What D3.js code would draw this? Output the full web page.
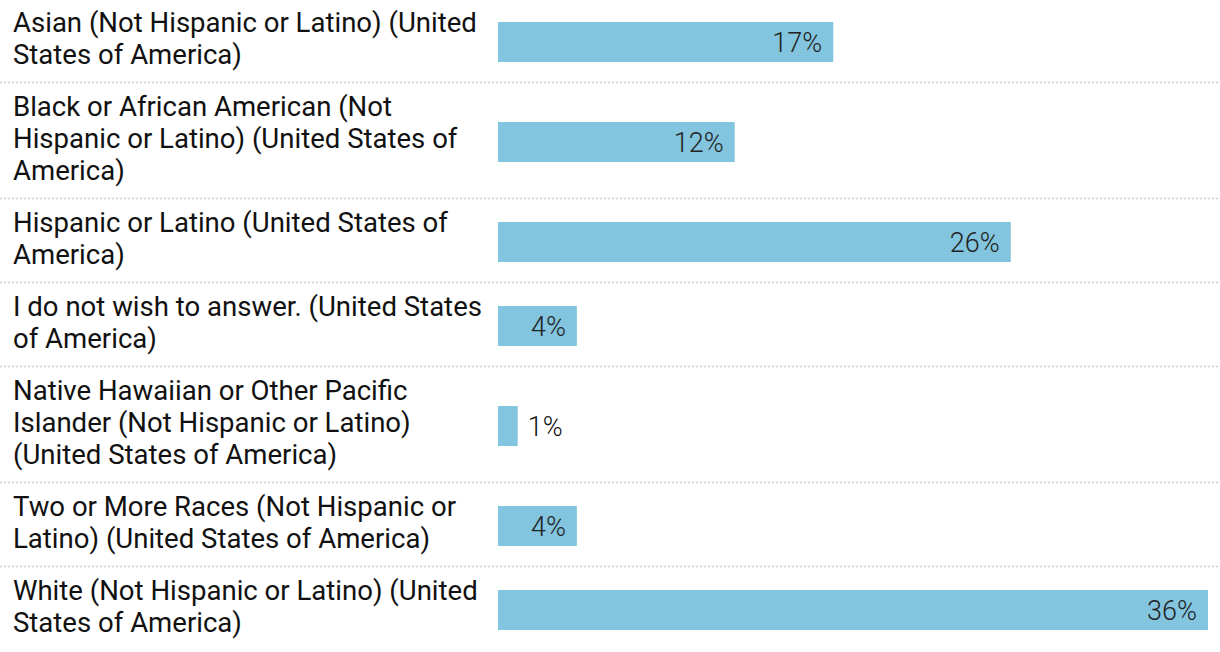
<!DOCTYPE html>
<html><head><meta charset="utf-8">
<script src="https://cdn.jsdelivr.net/npm/d3@7"></script>
<style>html,body{margin:0;padding:0;background:#fff;}svg{display:block;}</style>
</head><body>
<svg id="chart" width="1220" height="652"></svg>
<script>
const categories = [
  "Asian (Not Hispanic or Latino) (United States of America)",
  "Black or African American (Not Hispanic or Latino) (United States of America)",
  "Hispanic or Latino (United States of America)",
  "I do not wish to answer. (United States of America)",
  "Native Hawaiian or Other Pacific Islander (Not Hispanic or Latino) (United States of America)",
  "Two or More Races (Not Hispanic or Latino) (United States of America)",
  "White (Not Hispanic or Latino) (United States of America)"
];
const values = [17, 12, 26, 4, 1, 4, 36];

const W = 1220, H = 652;
const labelX = 13, wrapWidth = 475, lineH = 32, rowPad = 20;
const barX0 = 498, barX1 = 1208, barH = 40;
const fontFam = "Roboto, 'Open Sans', sans-serif";

const svg = d3.select("#chart");

const meas = svg.append("text").attr("font-family", fontFam).attr("font-size", 24).attr("visibility","hidden");
meas.text("Asian (Not Hispanic or Latino) (United");
const fs = 24 * 464 / meas.node().getComputedTextLength();
meas.attr("font-size", fs);
function wrap(str){
  const words = str.split(" "); const lines=[]; let cur="";
  for(const w of words){
    const t = cur ? cur+" "+w : w;
    meas.text(t);
    if(meas.node().getComputedTextLength() > wrapWidth && cur){ lines.push(cur); cur=w; }
    else cur=t;
  }
  if(cur) lines.push(cur);
  return lines;
}
const rows = categories.map((c,i)=>({cat:c, val:values[i], lines:wrap(c)}));
meas.remove();
let yAcc = 0;
rows.forEach(r=>{ r.h = r.lines.length*lineH + rowPad; r.y0 = yAcc; yAcc += r.h; });
const scaleH = H / yAcc;
rows.forEach(r=>{ r.y0*=scaleH; r.h*=scaleH; });

const x = d3.scaleLinear().domain([0, d3.max(values)]).range([barX0, barX1]);

const g = svg.append("g");
g.selectAll("line.sep").data(rows.slice(1)).join("line")
  .attr("class","sep").attr("x1",0).attr("x2",W)
  .attr("y1",d=>Math.round(d.y0)-1.5).attr("y2",d=>Math.round(d.y0)-1.5)
  .attr("stroke","#cfcfcf").attr("stroke-width",1.5).attr("stroke-dasharray","2,2");

const row = g.selectAll("g.row").data(rows).join("g").attr("class","row")
  .attr("transform", d=>`translate(0,${d.y0})`);

row.each(function(d){
  const s = d3.select(this);
  const blockH = d.lines.length*lineH;
  const top = (d.h - blockH)/2;
  const t = s.append("text").attr("font-family",fontFam).attr("font-size",fs).attr("fill","#111");
  d.lines.forEach((ln,k)=>{
    t.append("tspan").attr("x",labelX).attr("y", top + k*lineH + 22).text(ln);
  });
  const by = d.h/2 - barH/2;
  s.append("rect").attr("x",x(0)).attr("y",by).attr("width",x(d.val)-x(0)).attr("height",barH).attr("fill","#83c5df");
  const lbl = d.val + "%";
  const vt = s.append("text").attr("font-family",fontFam).attr("font-size",27).attr("font-weight",300)
    .attr("fill","#222").attr("y", d.h/2 + 10).text(lbl);
  const tw = vt.node().getComputedTextLength();
  if (tw + 20 < x(d.val)-x(0)) vt.attr("x", x(d.val)-11).attr("text-anchor","end");
  else vt.attr("x", x(d.val)+10).attr("text-anchor","start").attr("fill","#111");
});
</script>
</body></html>
